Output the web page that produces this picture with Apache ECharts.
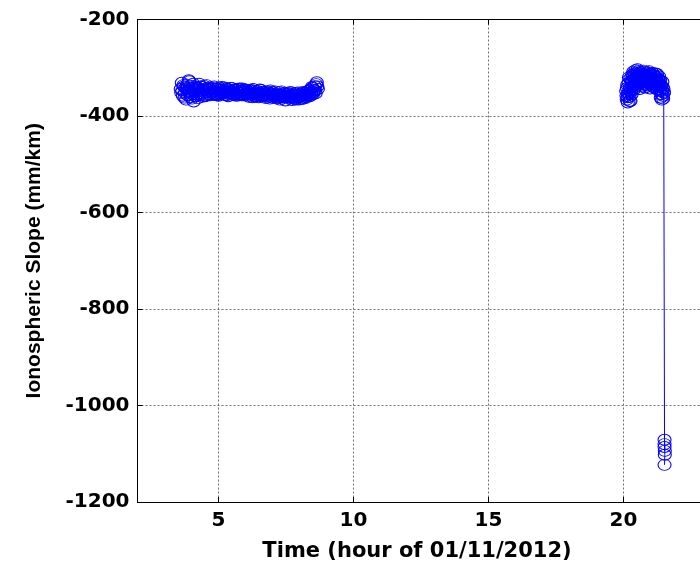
<!DOCTYPE html>
<html>
<head>
<meta charset="utf-8">
<script src="https://cdn.jsdelivr.net/npm/echarts@6/dist/echarts.min.js"></script>
<style>
  html, body { margin: 0; padding: 0; background: #fff; }
  #chart { width: 700px; height: 573px; }
</style>
</head>
<body>
<div id="chart"></div>
<script>
// Morning pass: time (hour) and ionospheric slope (mm/km)
const morningTime = [
  3.60, 3.62, 3.64, 3.66, 3.68, 3.70, 3.72, 3.74, 3.76, 3.78,
  3.80, 3.82, 3.84, 3.86, 3.88, 3.90, 3.92, 3.94, 3.96, 3.98,
  4.00, 4.02, 4.04, 4.06, 4.08, 4.10, 4.12, 4.14, 4.16, 4.18,
  4.20, 4.22, 4.24, 4.26, 4.28, 4.30, 4.32, 4.34, 4.36, 4.38,
  4.40, 4.42, 4.44, 4.46, 4.48, 4.50, 4.52, 4.54, 4.56, 4.58,
  4.60, 4.62, 4.64, 4.66, 4.68, 4.70, 4.72, 4.74, 4.76, 4.78,
  4.80, 4.82, 4.84, 4.86, 4.88, 4.90, 4.92, 4.94, 4.96, 4.98,
  5.00, 5.02, 5.04, 5.06, 5.08, 5.10, 5.12, 5.14, 5.16, 5.18,
  5.20, 5.22, 5.24, 5.26, 5.28, 5.30, 5.32, 5.34, 5.36, 5.38,
  5.40, 5.42, 5.44, 5.46, 5.48, 5.50, 5.52, 5.54, 5.56, 5.58,
  5.60, 5.62, 5.64, 5.66, 5.68, 5.70, 5.72, 5.74, 5.76, 5.78,
  5.80, 5.82, 5.84, 5.86, 5.88, 5.90, 5.92, 5.94, 5.96, 5.98,
  6.00, 6.02, 6.04, 6.06, 6.08, 6.10, 6.12, 6.14, 6.16, 6.18,
  6.20, 6.22, 6.24, 6.26, 6.28, 6.30, 6.32, 6.34, 6.36, 6.38,
  6.40, 6.42, 6.44, 6.46, 6.48, 6.50, 6.52, 6.54, 6.56, 6.58,
  6.60, 6.62, 6.64, 6.66, 6.68, 6.70, 6.72, 6.74, 6.76, 6.78,
  6.80, 6.82, 6.84, 6.86, 6.88, 6.90, 6.92, 6.94, 6.96, 6.98,
  7.00, 7.02, 7.04, 7.06, 7.08, 7.10, 7.12, 7.14, 7.16, 7.18,
  7.20, 7.22, 7.24, 7.26, 7.28, 7.30, 7.32, 7.34, 7.36, 7.38,
  7.40, 7.42, 7.44, 7.46, 7.48, 7.50, 7.52, 7.54, 7.56, 7.58,
  7.60, 7.62, 7.64, 7.66, 7.68, 7.70, 7.72, 7.74, 7.76, 7.78,
  7.80, 7.82, 7.84, 7.86, 7.88, 7.90, 7.92, 7.94, 7.96, 7.98,
  8.00, 8.02, 8.04, 8.06, 8.08, 8.10, 8.12, 8.14, 8.16, 8.18,
  8.20, 8.22, 8.24, 8.26, 8.28, 8.30, 8.32, 8.34, 8.36, 8.38,
  8.40, 8.42, 8.44, 8.46, 8.48, 8.50, 8.52, 8.54, 8.56, 8.58,
  8.60, 8.62, 8.64, 8.66, 8.68
];
const morningSlope = [
  -344, -352, -331, -347, -358, -336, -339, -362, -352, -341,
  -366, -343, -335, -357, -349, -326, -328, -350, -361, -337,
  -342, -364, -355, -333, -370, -348, -338, -359, -351, -340,
  -345, -356, -363, -342, -333, -352, -356, -339, -347, -360,
  -340, -349, -353, -337, -346, -359, -358, -343, -336, -351,
  -350, -341, -344, -355, -357, -345, -341, -349, -352, -343,
  -347, -356, -339, -350, -355, -344, -349, -357, -343, -352,
  -358, -341, -346, -355, -352, -345, -340, -351, -354, -347,
  -348, -341, -356, -350, -343, -357, -351, -344, -359, -348,
  -345, -354, -350, -342, -342, -353, -355, -346, -349, -357,
  -353, -345, -346, -354, -358, -349, -344, -356, -351, -343,
  -356, -347, -348, -357, -343, -350, -357, -345, -350, -355,
  -345, -352, -354, -347, -349, -356, -360, -351, -347, -355,
  -352, -346, -356, -361, -344, -353, -358, -348, -351, -359,
  -355, -349, -348, -357, -361, -352, -353, -345, -346, -358,
  -359, -351, -350, -356, -357, -349, -352, -360, -363, -354,
  -349, -358, -356, -351, -360, -364, -347, -353, -354, -350,
  -362, -355, -351, -359, -358, -349, -355, -361, -364, -356,
  -357, -363, -350, -356, -366, -358, -355, -349, -361, -357,
  -352, -362, -359, -353, -368, -361, -354, -358, -360, -352,
  -363, -357, -356, -350, -351, -362, -367, -355, -358, -364,
  -362, -352, -353, -366, -365, -356, -357, -351, -361, -366,
  -355, -360, -364, -353, -358, -365, -350, -357, -362, -352,
  -356, -363, -360, -352, -349, -358, -357, -347, -352, -359,
  -347, -352, -356, -340, -342, -355, -351, -346, -338, -347,
  -353, -334, -330, -339, -344
];

// Evening pass, ending with the sharp drop near 21.5 h
const eveningTime = [
  20.10, 20.11, 20.12, 20.13, 20.14, 20.15, 20.16, 20.17, 20.18, 20.19,
  20.20, 20.21, 20.22, 20.23, 20.24, 20.25, 20.26, 20.27, 20.28, 20.29,
  20.30, 20.31, 20.32, 20.33, 20.34, 20.35, 20.36, 20.37, 20.38, 20.39,
  20.40, 20.41, 20.42, 20.43, 20.44, 20.45, 20.46, 20.47, 20.48, 20.49,
  20.50, 20.51, 20.52, 20.53, 20.54, 20.55, 20.56, 20.57, 20.58, 20.59,
  20.60, 20.61, 20.62, 20.63, 20.64, 20.65, 20.66, 20.67, 20.68, 20.69,
  20.70, 20.71, 20.72, 20.73, 20.74, 20.75, 20.76, 20.77, 20.78, 20.79,
  20.80, 20.81, 20.82, 20.83, 20.84, 20.85, 20.86, 20.87, 20.88, 20.89,
  20.90, 20.91, 20.92, 20.93, 20.94, 20.95, 20.96, 20.97, 20.98, 20.99,
  21.00, 21.01, 21.02, 21.03, 21.04, 21.05, 21.06, 21.07, 21.08, 21.09,
  21.10, 21.11, 21.12, 21.13, 21.14, 21.15, 21.16, 21.17, 21.18, 21.19,
  21.20, 21.21, 21.22, 21.23, 21.24, 21.25, 21.26, 21.27, 21.28, 21.29,
  21.30, 21.31, 21.32, 21.33, 21.34, 21.35, 21.36, 21.37, 21.38, 21.39,
  21.40, 21.41, 21.42, 21.43, 21.44, 21.45, 21.46, 21.47, 21.48, 21.49,
  21.50,
  21.52, 21.52, 21.53, 21.52, 21.53, 21.52
];
const eveningSlope = [
  -348, -358, -366, -342, -335, -361, -372, -355, -352, -331,
  -320, -347, -360, -369, -341, -322, -369, -350, -328, -344,
  -355, -330, -315, -326, -338, -317, -308, -329, -346, -312,
  -322, -336, -331, -314, -305, -327, -340, -321, -318, -333,
  -327, -310, -303, -318, -336, -306, -314, -332, -322, -311,
  -344, -323, -309, -326, -330, -315, -317, -334, -339, -320,
  -312, -329, -325, -308, -306, -321, -334, -312, -320, -336,
  -341, -318, -315, -330, -328, -316, -310, -327, -337, -319,
  -318, -309, -332, -324, -307, -331, -326, -314, -343, -322,
  -313, -335, -329, -318, -321, -333, -338, -325, -311, -328,
  -324, -315, -336, -321, -316, -335, -342, -323, -327, -312,
  -319, -331, -334, -320, -313, -329, -345, -330, -322, -339,
  -331, -326, -318, -340, -349, -333, -326, -345, -362, -337,
  -338, -355, -366, -348, -329, -340, -358, -364, -344, -350,
  -352,
  -1086, -1071, -1094, -1080, -1102, -1123
];

// Axis ticks
const xTicks = [5, 10, 15, 20];
const yTicks = [-1200, -1000, -800, -600, -400, -200];

const pairs = (xs, ys) => xs.map((x, i) => [x, ys[i]]);

const blue = '#0000ff';
const wideFont = '"DejaVu Sans", Verdana, sans-serif';
const narrowFont = '"Liberation Sans", Arial, Helvetica, sans-serif';
const tickText = { fontFamily: wideFont, fontWeight: 'bold', fontSize: 20, color: '#000' };
const xTitleText = { fontFamily: wideFont, fontWeight: 'bold', fontSize: 21, color: '#000', padding: [0, 8, 0, 0] };
const yTitleText = { fontFamily: narrowFont, fontWeight: 'bold', fontSize: 21, color: '#000' };

const markerSeries = (name, data) => ({
  name: name,
  type: 'line',
  data: data,
  symbol: 'circle',
  symbolSize: [13, 11],
  showAllSymbol: true,
  itemStyle: { color: 'rgba(0,0,0,0)', borderColor: blue, borderWidth: 1 },
  lineStyle: { color: blue, width: 1 },
  emphasis: { disabled: true },
  clip: false,
  animation: false
});

const chart = echarts.init(document.getElementById('chart'), null, { renderer: 'canvas' });

chart.setOption({
  backgroundColor: '#ffffff',
  animation: false,
  // plot box runs slightly past the right edge of the page
  grid: { left: 137.5, top: 19.5, width: 567, height: 482.5, outerBoundsMode: 'none' },
  xAxis: [
    {
      type: 'value',
      min: 2,
      max: 23,
      position: 'bottom',
      name: 'Time (hour of 01/11/2012)',
      nameLocation: 'middle',
      nameGap: 39,
      nameTextStyle: xTitleText,
      axisLine: { show: true, onZero: false, lineStyle: { color: '#000', width: 1 } },
      axisTick: { show: true, inside: true, length: 5, customValues: xTicks, lineStyle: { color: '#000' } },
      axisLabel: Object.assign({ customValues: xTicks, margin: 9 }, tickText),
      splitLine: { show: true, lineStyle: { color: '#707070', type: [2, 2], width: 1 } }
    },
    {
      type: 'value',
      min: 2,
      max: 23,
      position: 'top',
      axisLine: { show: true, onZero: false, lineStyle: { color: '#000', width: 1 } },
      axisTick: { show: true, inside: true, length: 5, customValues: xTicks, lineStyle: { color: '#000' } },
      axisLabel: { show: false },
      splitLine: { show: false }
    }
  ],
  yAxis: {
    type: 'value',
    min: -1200,
    max: -200,
    interval: 200,
    name: 'Ionospheric Slope (mm/km)',
    nameLocation: 'middle',
    nameGap: 93,
    nameTextStyle: yTitleText,
    axisLine: { show: true, onZero: false, lineStyle: { color: '#000', width: 1 } },
    axisTick: { show: true, inside: true, length: 5, lineStyle: { color: '#000' } },
    axisLabel: Object.assign({ margin: 8, customValues: yTicks, formatter: v => String(v) }, tickText),
    splitLine: { show: true, lineStyle: { color: '#707070', type: [2, 2], width: 1 } }
  },
  series: [
    markerSeries('morning', pairs(morningTime, morningSlope)),
    markerSeries('evening', pairs(eveningTime, eveningSlope))
  ]
});
</script>
</body>
</html>
